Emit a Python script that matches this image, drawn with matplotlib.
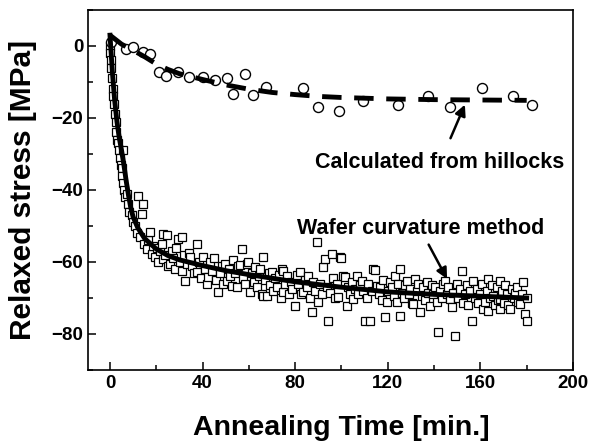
import matplotlib
matplotlib.use("Agg")
import matplotlib.pyplot as plt
from matplotlib.ticker import MultipleLocator

plt.rcParams['font.family'] = ['Liberation Sans', 'DejaVu Sans']
plt.rcParams['font.weight'] = 'bold'

# wafer curvature data (squares)
wafer_t = [0, 0.2, 0.4, 0.6, 0.9, 1.2, 1.5, 1.8, 2.2, 2.5, 2.8, 3.1, 3.6, 3.9, 4.3, 4.7, 5.0, 5.3, 5.7, 5.7,
           6.2, 6.6, 7.2, 7.9, 8.3, 9.4, 10.1,
           10.8, 11.5, 12.2, 12.8, 13.7, 14.4, 14.8, 15.8, 16.5, 17.3, 18, 18.6, 19.3, 20.1, 20.8, 21.5, 22.3, 23,
           23, 23.8, 24.5, 25.2, 25.9, 26.6, 27.3, 28, 28.7, 29.5, 30.2, 31, 31, 31.8, 32.5, 33.3, 34, 34.6,
           35.5, 36.4, 37.4, 37.4, 38.3, 39.2, 40, 41, 41.8, 42.5, 43.4, 44.2, 45, 45.8, 46.8, 47.5, 48.3, 49,
           49.7, 50.4, 51.2, 52, 52.5, 53.3, 54.1, 55, 55.4, 56.2, 56.9, 57.6, 58.3, 59, 59.8, 60.5,
           61.2, 62, 62.8, 63.5, 64.3, 65, 65.5, 66.2, 66.2, 67, 67.7, 68.5, 69.2, 69.8, 70.6, 71.4, 72.2, 73,
           73.8, 74.2, 74.9, 74.9, 75.7, 76.5, 77.3, 78, 78.8, 79.9, 80.6, 81.3, 82, 82.7, 83.5, 84.2, 85, 85.7,
           86.4, 87.1, 87.8, 88.5, 89.3, 90, 90.7, 91.4, 92.1, 92.9, 93.6, 94.3, 95, 95.8, 96.5, 97.2, 97.9,
           98.6, 99.4, 100, 100.8,
           101.5, 102.2, 103, 103.7, 104.4, 105.1, 105.8, 106.5, 107.3, 108, 108.7, 109.4, 110.2, 110.9, 111.6,
           112.3, 113, 113.7, 114.5, 115.2, 116, 116.6, 117.3, 118, 118.8, 119.5, 120.2, 121, 121.7, 122.5,
           123.2, 124, 124.6, 125.3, 125.3, 126, 126.8, 127.5, 128.2, 129, 129.7, 130.4, 131, 131.7, 132.4,
           133.2, 133.9, 134.6, 135.3, 136, 136.8, 137.5, 138.2, 139, 139.7,
           140.4, 141.1, 141.8, 142.5, 143.2, 144, 144.7, 145.4, 146.2, 146.9, 147.6, 148.3, 149, 149.7, 150.5,
           151.2, 151.9, 152.6, 153.3, 154, 154.8, 155.5, 156.2, 156.9, 157.6, 158.4, 159.1, 159.8, 160.5,
           161.2, 162, 162.7, 163.4, 163.4, 164.2, 164.9, 165.6, 166.3, 167, 167.8, 168.5, 168.5, 168.5, 169.2,
           170, 170.7, 171.4, 172.1, 172.8, 173.5, 174.3, 175, 175.7, 176.4, 177.1, 177.8, 178.5, 179.3, 180, 180]
wafer_stress = [0, -2, -4, -6, -9, -12, -14, -16, -19, -21, -24, -26, -27, -29, -31, -33, -34, -36, -29, -38,
                -40, -42, -41, -44, -46, -47, -49,
                -50, -52, -41.6, -53, -46.7, -43.9, -55, -56.4, -54, -51.8, -57.8, -55.5, -58.5, -56, -60, -57, -55, -59.2,
                -52.2, -58, -52.5, -61, -60.6, -57, -59, -62, -56, -53.6, -60, -62.4, -53.1, -58, -65.2, -60.5, -57.5, -58.7,
                -61, -63, -55, -62.9, -60, -64.5, -58.5, -62, -66, -64.3, -60, -62.5, -59, -65, -68.4, -63, -61, -66,
                -60.6, -65.2, -62, -64, -66.6, -59.5, -63, -67, -61, -60.8, -56.4, -64.5, -66, -60.6, -60, -68.4,
                -63, -65.5, -61.5, -67, -64, -62, -69, -58.7, -69.4, -65, -69.4, -63, -66.5, -62.9, -68, -64.5, -67, -63.5,
                -70, -61.9, -62.4, -68.4, -66, -64, -69, -65.5, -67.5, -72.1, -63.5, -66, -62.9, -69, -68.4, -65, -67, -64,
                -70, -74, -65.6, -68, -54.5, -71.2, -66, -69, -61.5, -59.2, -67, -76.3, -68.5, -57.8, -64.5, -70, -66,
                -69.8, -58.7, -59, -63.8,
                -64.3, -72.1, -67, -69, -65.5, -70.3, -67.5, -64, -69, -66.5, -65.2, -68, -76.3, -70, -66.1,
                -76.3, -68, -61.9, -62.1, -66.6, -69, -67, -70.5, -65, -75.4, -71.2, -68, -65.5, -67, -69.5,
                -64, -71, -66, -61.9, -74.9, -68.5, -70, -66.5, -65.2, -69, -67.5, -71.5, -71.7, -64.7, -68,
                -66, -74, -69.5, -67, -70.5, -65.5, -68.5, -72.1, -66.5, -69,
                -67, -71, -79.5, -68, -70, -66, -65.2, -69, -67, -70.3, -72.5, -68.5, -80.5, -66, -70,
                -67.5, -62.4, -71.5, -69, -66.5, -72, -68, -76.3, -65.2, -70, -67.5, -71.5, -69, -66,
                -73, -71.2, -68, -64.7, -73.5, -70, -66.5, -69.5, -72, -67, -70.5, -65.2, -70.3, -73.1, -68,
                -71.5, -66.5, -69, -72, -73.1, -67.5, -70, -68.5, -67, -71, -71.7, -69, -65.6, -74.4, -76.3, -70]

# fitted curve through wafer data
fit_t = [0, 0.5, 1, 1.5, 2, 3, 4, 5, 6, 7, 8, 9, 10, 12, 15, 20, 25, 30, 40, 50, 60, 80, 100, 120, 140, 160, 180]
fit_stress = [3, -2, -7, -11, -15, -21, -25.5, -29, -33, -37.5, -41.5, -45, -47.5, -50.5, -53.5, -56.4, -58.2,
              -59.4, -61, -62.4, -63.5, -65.5, -67, -68.3, -69, -69.5, -70]

# stress calculated from hillocks (circles)
hill_t = [0.3, 6.9, 10.1, 14.1, 17.3, 21.3, 24.2, 29.2, 34.1, 40.3, 45.4, 50.4, 53.0, 58.3, 61.9, 67.4,
          83.2, 90.0, 99.0, 109.2, 124.5, 137.2, 146.9, 160.6, 174.2, 182.2]
hill_stress = [1.0, -0.8, -0.4, -1.8, -2.2, -7.3, -8.4, -7.3, -8.5, -8.5, -9.4, -9.0, -13.3, -7.8, -13.5, -11.5,
               -11.8, -16.9, -18.1, -15.3, -16.4, -14.0, -17.0, -11.8, -14.0, -16.4]

hill_fit_t = [0, 5, 10, 15, 20, 25, 30, 40, 50, 60, 70, 80, 90, 100, 120, 140, 160, 180]
hill_fit_stress = [3, 0.5, -1.2, -3, -5, -6.5, -7.7, -9.3, -10.8, -12, -12.9, -13.5, -14, -14.3, -14.7,
                   -14.9, -15.0, -15.1]

fig = plt.figure(figsize=(5.92, 4.46), dpi=100)
ax = fig.add_axes([88/592, 1-370/446, 485/592, 360/446])

ax.plot(wafer_t, wafer_stress, 's', mfc='white', mec='black', ms=6.3, mew=0.9, zorder=2)
ax.plot(hill_t, hill_stress, 'o', mfc='white', mec='black', ms=7.2, mew=1.0, zorder=2)
ax.plot(fit_t, fit_stress, '-', color='black', lw=3.5, zorder=3)
ax.plot(hill_fit_t, hill_fit_stress, '--', color='black', lw=3.5, dashes=(4, 2.6), zorder=3)

ax.set_xlim(-9.5, 200)
ax.set_ylim(-90, 10)
ax.xaxis.set_major_locator(MultipleLocator(40))
ax.xaxis.set_minor_locator(MultipleLocator(20))
ax.yaxis.set_major_locator(MultipleLocator(20))
ax.yaxis.set_minor_locator(MultipleLocator(10))
ax.tick_params(which='both', direction='in', labelsize=13.5, width=1.1)
ax.tick_params(which='major', length=6)
ax.tick_params(which='minor', length=3.5)
for s in ax.spines.values():
    s.set_linewidth(1.2)

ax.set_xlabel('Annealing Time [min.]', fontsize=20.5, fontweight='bold')
ax.set_ylabel('Relaxed stress [MPa]', fontsize=21.5, fontweight='bold')
ax.xaxis.set_label_coords(0.522, -0.125)
ax.yaxis.set_label_coords(-0.105, 0.5)

ax.annotate('Calculated from hillocks', xy=(153.3, -16.3), xytext=(142.5, -32.5),
            ha='center', va='center', fontsize=15.5, fontweight='bold',
            arrowprops=dict(arrowstyle='-|>', color='black', lw=1.8, mutation_scale=16,
                            shrinkA=9, shrinkB=0))
ax.annotate('Wafer curvature method', xy=(145.6, -64.7), xytext=(134, -50.8),
            ha='center', va='center', fontsize=15.5, fontweight='bold',
            arrowprops=dict(arrowstyle='-|>', color='black', lw=1.8, mutation_scale=16,
                            shrinkA=2, shrinkB=0))

plt.savefig('out.png', dpi=100)
